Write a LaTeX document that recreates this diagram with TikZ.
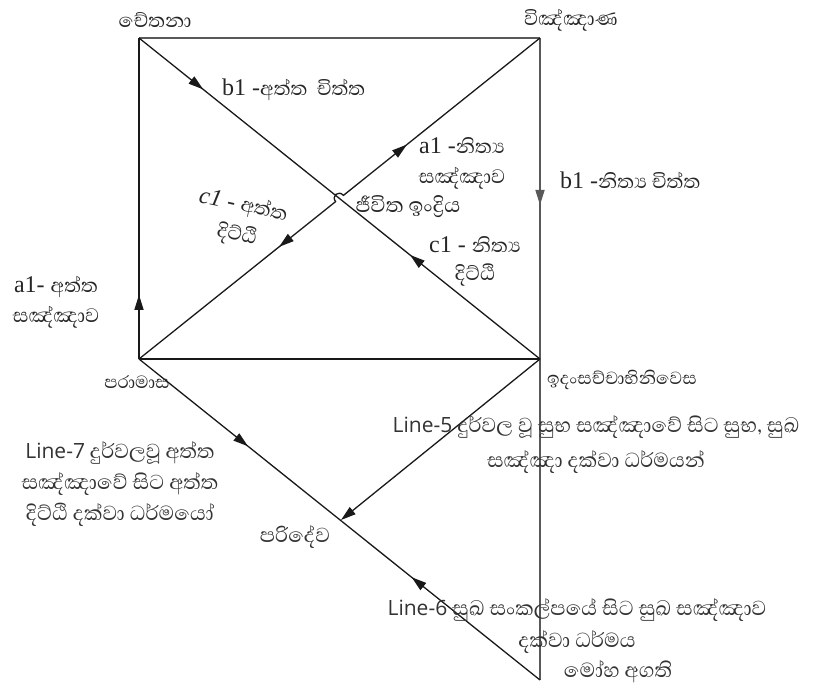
\documentclass[tikz,border=0pt]{standalone}
\usepackage{fontspec}
\setmainfont{Liberation Serif}
\newfontfamily\sinfont[Script=Sinhala]{Abhaya Libre}
\newfontfamily\lsans{Open Sans}
\usetikzlibrary{arrows.meta,decorations.markings}
\newcommand\latn[1]{{\rmfamily\fontsize{24}{30}\selectfont #1}}
\newcommand\linelab[1]{{\lsans\fontsize{21}{30}\selectfont #1}}
\tikzset{
  ln/.style={line width=1.3pt, draw=black!90},
  frame/.style={line width=1.8pt, draw=black!65},
  fwd/.style={postaction={decorate,decoration={markings,mark=at position #1 with {\arrow{Triangle[length=15pt,width=9pt]}}}}},
  bwd/.style={postaction={decorate,decoration={markings,mark=at position #1 with {\arrowreversed{Triangle[length=15pt,width=9pt]}}}}},
  lab/.style={inner sep=0pt, text=black!85, font=\fontsize{25}{30}\selectfont\sinfont, align=center},
  labm/.style={inner sep=0pt, text=black!85, font=\fontsize{22.5}{30}\selectfont\sinfont, align=center},
  labs/.style={inner sep=0pt, text=black!80, font=\fontsize{26}{33}\selectfont\sinfont, align=center},
}
\begin{document}
\begin{tikzpicture}[x=1pt,y=-1pt]
\useasboundingbox (0,0) rectangle (813,688);
% corner points
\coordinate (TL) at (139,38);
\coordinate (TR) at (540,38);
\coordinate (BL) at (139,359);
\coordinate (BR) at (540,359);
\coordinate (BOT) at (540,680);
\coordinate (PD) at (341,520);
\coordinate (H1) at (335.6,201.6);
\coordinate (H2) at (343.4,195.4);
\coordinate (H1c) at (331.0,196.0);
\coordinate (H2c) at (338.8,189.8);
% frame
\draw[frame] (TL) -- (TR);
\draw[frame, fwd=0.26] (TR) -- (BOT);
\draw[ln, fwd=0.2] (BL) -- (TL);
\draw[ln] (BL) -- (BR);
% diagonals
\draw[ln, fwd=0.16, bwd=0.676] (TL) -- (BR);
\draw[ln, fwd=0.672, bwd=0.345] (BL) -- (H1) .. controls (H1c) and (H2c) .. (H2) -- (TR);
% lower lines
\draw[ln, fwd=0.272, bwd=0.68] (BL) -- (BOT);
\draw[ln, -{Triangle[length=15pt,width=9pt]}] (BR) -- (PD);
% labels
\node[lab] (cet) at (155,20) {චේතනා};
\node[lab] (vin) at (571,20) {විඤ්ඤාණ};
\node[lab, anchor=west] (b1a) at (222,90) {\latn{b1 -}අත්ත\ \ චිත්ත};
\node[lab] (a1n) at (462,163) {\latn{a1 -}නිත්‍ය\\සඤ්ඤාව};
\node[lab, font=\fontsize{26.5}{30}\selectfont\sinfont] (jiv) at (408,207) {ජීවිත ඉංද්‍රිය};
\node[lab, font=\fontsize{25}{28}\selectfont\sinfont] (c1n) at (475,261) {\latn{c1 - }නිත්‍ය\\දිට්ඨි};
\node[lab, anchor=west] (b1n) at (560,180) {\latn{b1 -}නිත්‍ය චිත්ත};
\node[lab, rotate=-12] (c1a) at (240,221) {\latn{\itshape c1\upshape\ - }අත්ත\\දිට්ඨි};
\node[lab] (a1a) at (56,302) {\latn{a1- }අත්ත\\සඤ්ඤාව};
\node[labm] (par) at (137,382) {පරාමාස};
\node[labm] (ida) at (622,380) {ඉදංසච්චාභිනිවෙස};
\node[labs, font=\fontsize{26}{35}\selectfont\sinfont] (l5) at (596,445) {\linelab{Line-5} දුර්වල වූ සුභ සඤ්ඤාවේ සිට සුභ, සුඛ\\සඤ්ඤා දක්වා ධර්මයන්};
\node[labs, font=\fontsize{26}{31}\selectfont\sinfont] (l7) at (120,484) {\linelab{Line-7} දුර්වලවූ අත්ත\\සඤ්ඤාවේ සිට අත්ත\\දිට්ඨි දක්වා ධර්මයෝ};
\node[labs] (pari) at (295,537) {පරිදේව};
\node[labs, font=\fontsize{26}{32}\selectfont\sinfont] (l6) at (577,626) {\linelab{Line-6} සුඛ සංකල්පයේ සිට සුඛ සඤ්ඤාව\\දක්වා ධර්මය};
\node[labs] (moh) at (618,672) {මෝහ අගති};
\end{tikzpicture}
\end{document}
